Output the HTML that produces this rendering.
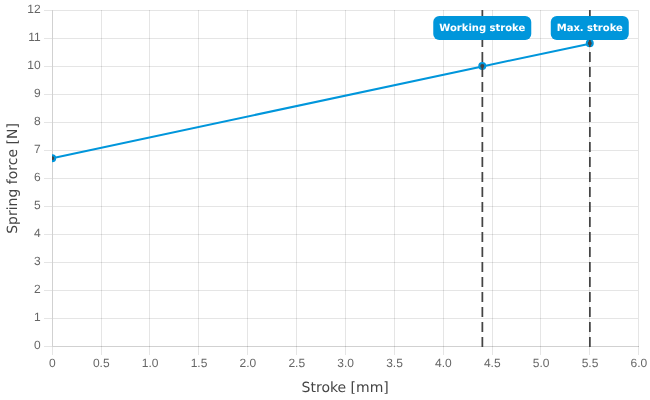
<!DOCTYPE html>
<html><head><meta charset="utf-8"><title>Spring force chart</title>
<style>
html,body{margin:0;padding:0;background:#fff;}
body{width:650px;height:400px;overflow:hidden;}
svg{display:block;text-rendering:geometricPrecision;}
.t{font-family:"Liberation Sans",Arial,Helvetica,sans-serif;font-size:12px;fill:#666;}
.a{font-family:"DejaVu Sans",Verdana,sans-serif;font-size:14px;fill:#444;}
.l{font-family:"DejaVu Sans",Verdana,sans-serif;font-size:10px;font-weight:bold;fill:#fff;}
</style></head><body>
<svg width="650" height="400" viewBox="0 0 650 400">
<rect width="650" height="400" fill="#fff"/>
<defs><clipPath id="c2"><rect x="0" y="10" width="650" height="337"/></clipPath><clipPath id="c"><rect x="52" y="9" width="588" height="339"/></clipPath></defs>
<g shape-rendering="crispEdges" stroke-width="1">

<line x1="52.5" y1="10" x2="52.5" y2="346" stroke="rgba(0,0,0,0.18)"/>
<line x1="52.5" y1="347" x2="52.5" y2="355" stroke="rgba(0,0,0,0.1)"/>
<line x1="101.5" y1="10" x2="101.5" y2="355" stroke="rgba(0,0,0,0.1)"/>
<line x1="149.5" y1="10" x2="149.5" y2="355" stroke="rgba(0,0,0,0.1)"/>
<line x1="198.5" y1="10" x2="198.5" y2="355" stroke="rgba(0,0,0,0.1)"/>
<line x1="247.5" y1="10" x2="247.5" y2="355" stroke="rgba(0,0,0,0.1)"/>
<line x1="296.5" y1="10" x2="296.5" y2="355" stroke="rgba(0,0,0,0.1)"/>
<line x1="345.5" y1="10" x2="345.5" y2="355" stroke="rgba(0,0,0,0.1)"/>
<line x1="394.5" y1="10" x2="394.5" y2="355" stroke="rgba(0,0,0,0.1)"/>
<line x1="443.5" y1="10" x2="443.5" y2="355" stroke="rgba(0,0,0,0.1)"/>
<line x1="492.5" y1="10" x2="492.5" y2="355" stroke="rgba(0,0,0,0.1)"/>
<line x1="540.5" y1="10" x2="540.5" y2="355" stroke="rgba(0,0,0,0.1)"/>
<line x1="589.5" y1="10" x2="589.5" y2="355" stroke="rgba(0,0,0,0.1)"/>
<line x1="638.5" y1="10" x2="638.5" y2="355" stroke="rgba(0,0,0,0.1)"/>
<line x1="44" y1="10.5" x2="52" y2="10.5" stroke="rgba(0,0,0,0.1)"/>
<line x1="53" y1="10.5" x2="638" y2="10.5" stroke="rgba(0,0,0,0.1)"/>
<line x1="44" y1="38.5" x2="52" y2="38.5" stroke="rgba(0,0,0,0.1)"/>
<line x1="53" y1="38.5" x2="638" y2="38.5" stroke="rgba(0,0,0,0.1)"/>
<line x1="44" y1="66.5" x2="52" y2="66.5" stroke="rgba(0,0,0,0.1)"/>
<line x1="53" y1="66.5" x2="638" y2="66.5" stroke="rgba(0,0,0,0.1)"/>
<line x1="44" y1="94.5" x2="52" y2="94.5" stroke="rgba(0,0,0,0.1)"/>
<line x1="53" y1="94.5" x2="638" y2="94.5" stroke="rgba(0,0,0,0.1)"/>
<line x1="44" y1="122.5" x2="52" y2="122.5" stroke="rgba(0,0,0,0.1)"/>
<line x1="53" y1="122.5" x2="638" y2="122.5" stroke="rgba(0,0,0,0.1)"/>
<line x1="44" y1="150.5" x2="52" y2="150.5" stroke="rgba(0,0,0,0.1)"/>
<line x1="53" y1="150.5" x2="638" y2="150.5" stroke="rgba(0,0,0,0.1)"/>
<line x1="44" y1="178.5" x2="52" y2="178.5" stroke="rgba(0,0,0,0.1)"/>
<line x1="53" y1="178.5" x2="638" y2="178.5" stroke="rgba(0,0,0,0.1)"/>
<line x1="44" y1="206.5" x2="52" y2="206.5" stroke="rgba(0,0,0,0.1)"/>
<line x1="53" y1="206.5" x2="638" y2="206.5" stroke="rgba(0,0,0,0.1)"/>
<line x1="44" y1="234.5" x2="52" y2="234.5" stroke="rgba(0,0,0,0.1)"/>
<line x1="53" y1="234.5" x2="638" y2="234.5" stroke="rgba(0,0,0,0.1)"/>
<line x1="44" y1="262.5" x2="52" y2="262.5" stroke="rgba(0,0,0,0.1)"/>
<line x1="53" y1="262.5" x2="638" y2="262.5" stroke="rgba(0,0,0,0.1)"/>
<line x1="44" y1="290.5" x2="52" y2="290.5" stroke="rgba(0,0,0,0.1)"/>
<line x1="53" y1="290.5" x2="638" y2="290.5" stroke="rgba(0,0,0,0.1)"/>
<line x1="44" y1="318.5" x2="52" y2="318.5" stroke="rgba(0,0,0,0.1)"/>
<line x1="53" y1="318.5" x2="638" y2="318.5" stroke="rgba(0,0,0,0.1)"/>
<line x1="44" y1="346.5" x2="52" y2="346.5" stroke="rgba(0,0,0,0.1)"/>
<line x1="52" y1="346.5" x2="639" y2="346.5" stroke="rgba(0,0,0,0.18)"/>
</g>
<g class="t" text-anchor="end">
<text x="40.7" y="13.0">12</text>
<text x="40.7" y="41.0">11</text>
<text x="40.7" y="69.0">10</text>
<text x="40.7" y="97.0">9</text>
<text x="40.7" y="125.0">8</text>
<text x="40.7" y="153.0">7</text>
<text x="40.7" y="181.0">6</text>
<text x="40.7" y="209.0">5</text>
<text x="40.7" y="237.0">4</text>
<text x="40.7" y="265.0">3</text>
<text x="40.7" y="293.0">2</text>
<text x="40.7" y="321.0">1</text>
<text x="40.7" y="349.0">0</text>
</g><g class="t" text-anchor="middle">
<text x="52.40" y="366.9">0</text>
<text x="101.27" y="366.9">0.5</text>
<text x="150.14" y="366.9">1.0</text>
<text x="199.01" y="366.9">1.5</text>
<text x="247.88" y="366.9">2.0</text>
<text x="296.75" y="366.9">2.5</text>
<text x="345.62" y="366.9">3.0</text>
<text x="394.49" y="366.9">3.5</text>
<text x="443.36" y="366.9">4.0</text>
<text x="492.23" y="366.9">4.5</text>
<text x="541.10" y="366.9">5.0</text>
<text x="589.97" y="366.9">5.5</text>
<text x="638.84" y="366.9">6.0</text>
</g>
<text class="a" text-anchor="middle" x="345.2" y="391.5">Stroke [mm]</text>
<text class="a" text-anchor="middle" transform="translate(16.5,178.5) rotate(-90)">Spring force [N]</text>
<g clip-path="url(#c)">
<polyline fill="none" stroke="#0096db" stroke-width="2" stroke-linejoin="round" points="52.20,158.15 482.26,66.43 589.77,43.75"/>
<circle cx="52.20" cy="158.15" r="3" fill="#444" stroke="#0096db" stroke-width="2"/>
<circle cx="482.26" cy="66.03" r="3" fill="#444" stroke="#0096db" stroke-width="2"/>
<circle cx="589.77" cy="43.35" r="3" fill="#444" stroke="#0096db" stroke-width="2"/>
</g>
<line x1="482.36" y1="7" x2="482.36" y2="352" stroke="#444" stroke-width="1.75" stroke-dasharray="10 5" clip-path="url(#c2)"/>
<line x1="589.87" y1="7" x2="589.87" y2="352" stroke="#444" stroke-width="1.75" stroke-dasharray="10 5" clip-path="url(#c2)"/>
<rect x="433.26" y="16" width="98" height="24" rx="6" ry="6" fill="#0096db"/><text class="l" text-anchor="middle" x="482.26" y="31.3">Working stroke</text>
<rect x="550.77" y="16" width="78" height="24" rx="6" ry="6" fill="#0096db"/><text class="l" text-anchor="middle" x="589.77" y="31.3">Max. stroke</text>
</svg></body></html>
